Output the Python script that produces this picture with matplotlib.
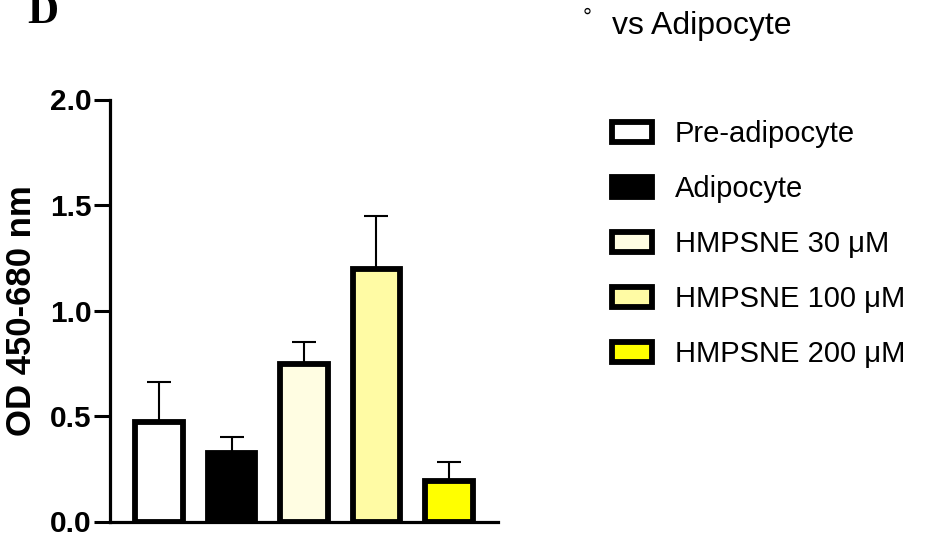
import matplotlib
matplotlib.use("Agg")
import matplotlib.pyplot as plt
import numpy as np

# group means and upper SD
groups = ["Pre-adipocyte", "Adipocyte", "HMPSNE 30 μM", "HMPSNE 100 μM", "HMPSNE 200 μM"]
od_mean = [0.47, 0.325, 0.745, 1.195, 0.19]
od_err = [0.19, 0.075, 0.105, 0.255, 0.09]
fills = ["#FFFFFF", "#000000", "#FFFDE2", "#FFFBA4", "#FFFF00"]
y_ticks = [0.0, 0.5, 1.0, 1.5, 2.0]

plt.rcParams["font.family"] = ["Liberation Sans", "DejaVu Sans"]

W, H = 925, 536
fig = plt.figure(figsize=(W / 100, H / 100), dpi=100)
ax = fig.add_axes([110 / W, 14.5 / H, 388 / W, 422 / H])

x = np.arange(len(groups))
bars = ax.bar(x, od_mean, width=0.65, color=fills, edgecolor="black",
              linewidth=4.2, label=groups, zorder=3)
# one-sided error bars, drawn behind the bars so they start at the top edge
ax.errorbar(x, od_mean, yerr=[np.zeros(len(od_err)), od_err], fmt="none",
            ecolor="black", elinewidth=1.5, capsize=8.5, capthick=1.5, zorder=2)

ax.set_xlim(-0.676, len(groups) - 1 + 0.676)
ax.set_ylim(0, 2.0)
ax.set_yticks(y_ticks)
ax.set_yticklabels([f"{v:.1f}" for v in y_ticks], fontsize=21.5, fontweight="bold")
ax.set_xticks([])
ax.tick_params(axis="y", length=11.5, width=2.2, pad=2)

for side in ["top", "right"]:
    ax.spines[side].set_visible(False)
for side in ["left", "bottom"]:
    ax.spines[side].set_linewidth(2.3)

ax.set_ylabel("OD 450-680 nm", fontsize=25, fontweight="bold")
ax.yaxis.set_label_coords(-0.185, 0.5)

handles = [b for b in bars]
fig.legend(handles, groups, loc="upper left", bbox_to_anchor=(612 / W, 1 - 120 / H),
           frameon=False, fontsize=21, handlelength=1.37, handleheight=0.68,
           handletextpad=0.79, labelspacing=0.93, borderpad=0, borderaxespad=0)

fig.text(27 / W, 1 + 6 / H, "D", fontsize=31, fontweight="bold",
         family=["Liberation Serif", "DejaVu Serif"], ha="left", va="top")
fig.text(587 / W, 1 - 18 / H, "°", fontsize=16, ha="center", va="center")
fig.text(612 / W, 1 - 26 / H, "vs Adipocyte", fontsize=23, ha="left", va="center")

fig.savefig("out.png", dpi=100)
